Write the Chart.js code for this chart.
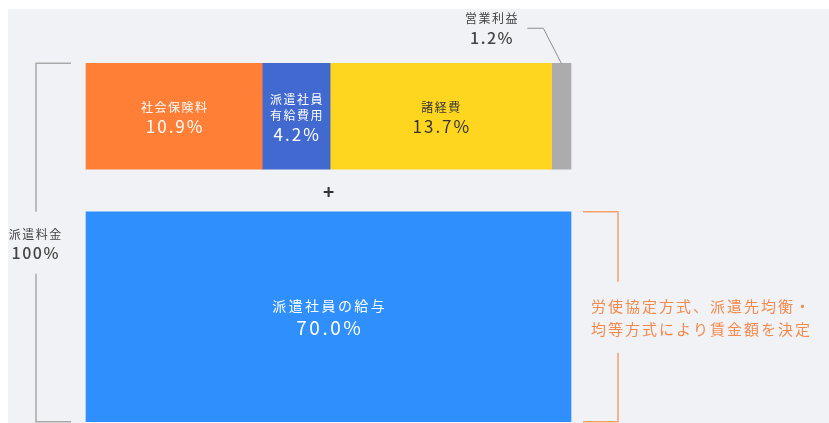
<!DOCTYPE html>
<html lang="ja">
<head>
<meta charset="utf-8">
<script src="https://cdn.jsdelivr.net/npm/chart.js@4"></script>
<style>
  html, body { margin: 0; padding: 0; background: #fff; }
  #wrap { width: 829px; height: 423px; position: relative; }
</style>
</head>
<body>
<div id="wrap"><canvas id="feeChart"></canvas></div>
<script>
// rows of the chart
const rows = ['内訳', '給与'];

// top row: parts of the fee other than salary (percent)
const partNames = [['社会保険料'], ['派遣社員', '有給費用'], ['諸経費'], ['営業利益']];
const partValues = [10.9, 4.2, 13.7, 1.2];
const partColors = ['#ff7f37', '#4169d0', '#ffd61f', '#acacac'];
const partTextColors = ['#ffffff', '#ffffff', '#333333', null];

// bottom row: salary
const salaryName = '派遣社員の給与';
const salaryValue = 70.0;
const salaryColor = '#2f90fd';

const totalLabel = ['派遣料金', '100%'];
const noteLines = ['労使協定方式、派遣先均衡・', '均等方式により賃金額を決定'];

const FONT = '"Noto Sans CJK JP", "Noto Sans", sans-serif';

function pct(v) { return v.toFixed(1) + '%'; }

const datasets = partValues.map((v, i) => ({
  label: partNames[i].join(''),
  data: [v, null],
  backgroundColor: partColors[i],
  xAxisID: 'x',
  barThickness: 106,
  borderWidth: 0,
  clip: false
}));
datasets.push({
  label: salaryName,
  data: [null, salaryValue],
  backgroundColor: salaryColor,
  xAxisID: 'x2',
  barThickness: 210,
  borderWidth: 0,
  clip: false
});

function txt(ctx, s, x, y, size, color, spacing, weight, align) {
  ctx.font = (weight || 'normal') + ' ' + size + 'px ' + FONT;
  ctx.fillStyle = color;
  ctx.letterSpacing = (spacing || 0) + 'px';
  ctx.textAlign = align || 'center';
  ctx.textBaseline = 'middle';
  // letter spacing adds trailing space, shift half of it back when centred
  const shift = (align === 'left') ? 0 : (spacing || 0) / 2;
  ctx.fillText(s, x + shift, y);
}

const panelBg = {
  id: 'panelBg',
  beforeDraw(chart) {
    const ctx = chart.ctx;
    ctx.save();
    ctx.fillStyle = '#f1f2f6';
    ctx.fillRect(8, 9, chart.width - 8, chart.height - 9);
    ctx.restore();
  }
};

const annotations = {
  id: 'annotations',
  afterDatasetsDraw(chart) {
    const ctx = chart.ctx;
    ctx.save();

    // labels inside top segments
    partValues.forEach((v, i) => {
      const bar = chart.getDatasetMeta(i).data[0];
      const cx = (bar.x + bar.base) / 2;
      const cy = bar.y;
      const col = partTextColors[i];
      if (!col) return;
      const names = partNames[i];
      if (names.length === 1) {
        txt(ctx, names[0], cx, cy - 9, 12, col, 1.5);
        txt(ctx, pct(v), cx, cy + 10, 17, col, 2);
      } else {
        txt(ctx, names[0], cx, cy - 17, 12, col, 1.5);
        txt(ctx, names[1], cx, cy - 1, 12, col, 1.5);
        txt(ctx, pct(v), cx, cy + 18, 17, col, 2);
      }
    });

    // small segment label with leader line
    const last = partValues.length - 1;
    const gb = chart.getDatasetMeta(last).data[0];
    const gx = (gb.x + gb.base) / 2;
    const gTop = gb.y - gb.height / 2;
    ctx.strokeStyle = '#8f8f8f';
    ctx.lineWidth = 1;
    ctx.beginPath();
    ctx.moveTo(gx, gTop);
    ctx.lineTo(gx - 18, gTop - 35);
    ctx.lineTo(gx - 34, gTop - 35);
    ctx.stroke();
    txt(ctx, partNames[last][0], gx - 70, gTop - 45, 12, '#444', 1.5);
    txt(ctx, pct(partValues[last]), gx - 70, gTop - 25, 16, '#444', 1.5, '500');

    // salary label
    const sb = chart.getDatasetMeta(partValues.length).data[1];
    const sx = (sb.x + sb.base) / 2;
    txt(ctx, salaryName, sx, sb.y - 11, 14, '#ffffff', 2.4);
    txt(ctx, pct(salaryValue), sx, sb.y + 11, 19, '#ffffff', 2.5);

    // plus sign between rows
    const tb = chart.getDatasetMeta(0).data[0];
    const topBottom = tb.y + tb.height / 2;
    const botTop = sb.y - sb.height / 2;
    const barLeft = tb.base;
    const barRight = gb.x;
    txt(ctx, '+', (barLeft + barRight) / 2, (topBottom + botTop) / 2 + 1, 19, '#333', 0, 'bold');

    // left bracket: whole fee
    const top = tb.y - tb.height / 2;
    const bottom = sb.y + sb.height / 2;
    const lx = 36;
    ctx.strokeStyle = '#a9a9a9';
    ctx.lineWidth = 1.5;
    ctx.beginPath();
    ctx.moveTo(barLeft - 15, top);
    ctx.lineTo(lx, top);
    ctx.lineTo(lx, botTop);
    ctx.moveTo(lx, botTop + 62);
    ctx.lineTo(lx, bottom);
    ctx.lineTo(barLeft - 15, bottom);
    ctx.stroke();
    txt(ctx, totalLabel[0], lx - 1, botTop + 23, 12, '#444', 1.5);
    txt(ctx, totalLabel[1], lx - 1, botTop + 41, 16, '#444', 1.5, '500');

    // right bracket: salary note
    const rx = barRight + 47;
    ctx.strokeStyle = '#f8a06c';
    ctx.beginPath();
    ctx.moveTo(barRight + 12, botTop);
    ctx.lineTo(rx, botTop);
    ctx.lineTo(rx, botTop + 70);
    ctx.moveTo(rx, botTop + 141);
    ctx.lineTo(rx, bottom);
    ctx.lineTo(barRight + 12, bottom);
    ctx.stroke();
    txt(ctx, noteLines[0], barRight + 20, botTop + 95, 15, '#f5894a', 2, 'normal', 'left');
    txt(ctx, noteLines[1], barRight + 20, botTop + 118, 15, '#f5894a', 2, 'normal', 'left');

    ctx.restore();
  }
};

new Chart(document.getElementById('feeChart'), {
  type: 'bar',
  data: { labels: rows, datasets: datasets },
  options: {
    indexAxis: 'y',
    responsive: true,
    maintainAspectRatio: false,
    animation: false,
    layout: { padding: { left: 86, right: 258, top: 16, bottom: 6 } },
    scales: {
      y: { stacked: true, display: false },
      x: { stacked: true, display: false, min: 0, max: partValues.reduce((a, b) => a + b, 0) },
      x2: { stacked: true, display: false, min: 0, max: salaryValue, axis: 'x' }
    },
    plugins: {
      legend: { display: false },
      tooltip: { enabled: false }
    }
  },
  plugins: [panelBg, annotations]
});
</script>
</body>
</html>
